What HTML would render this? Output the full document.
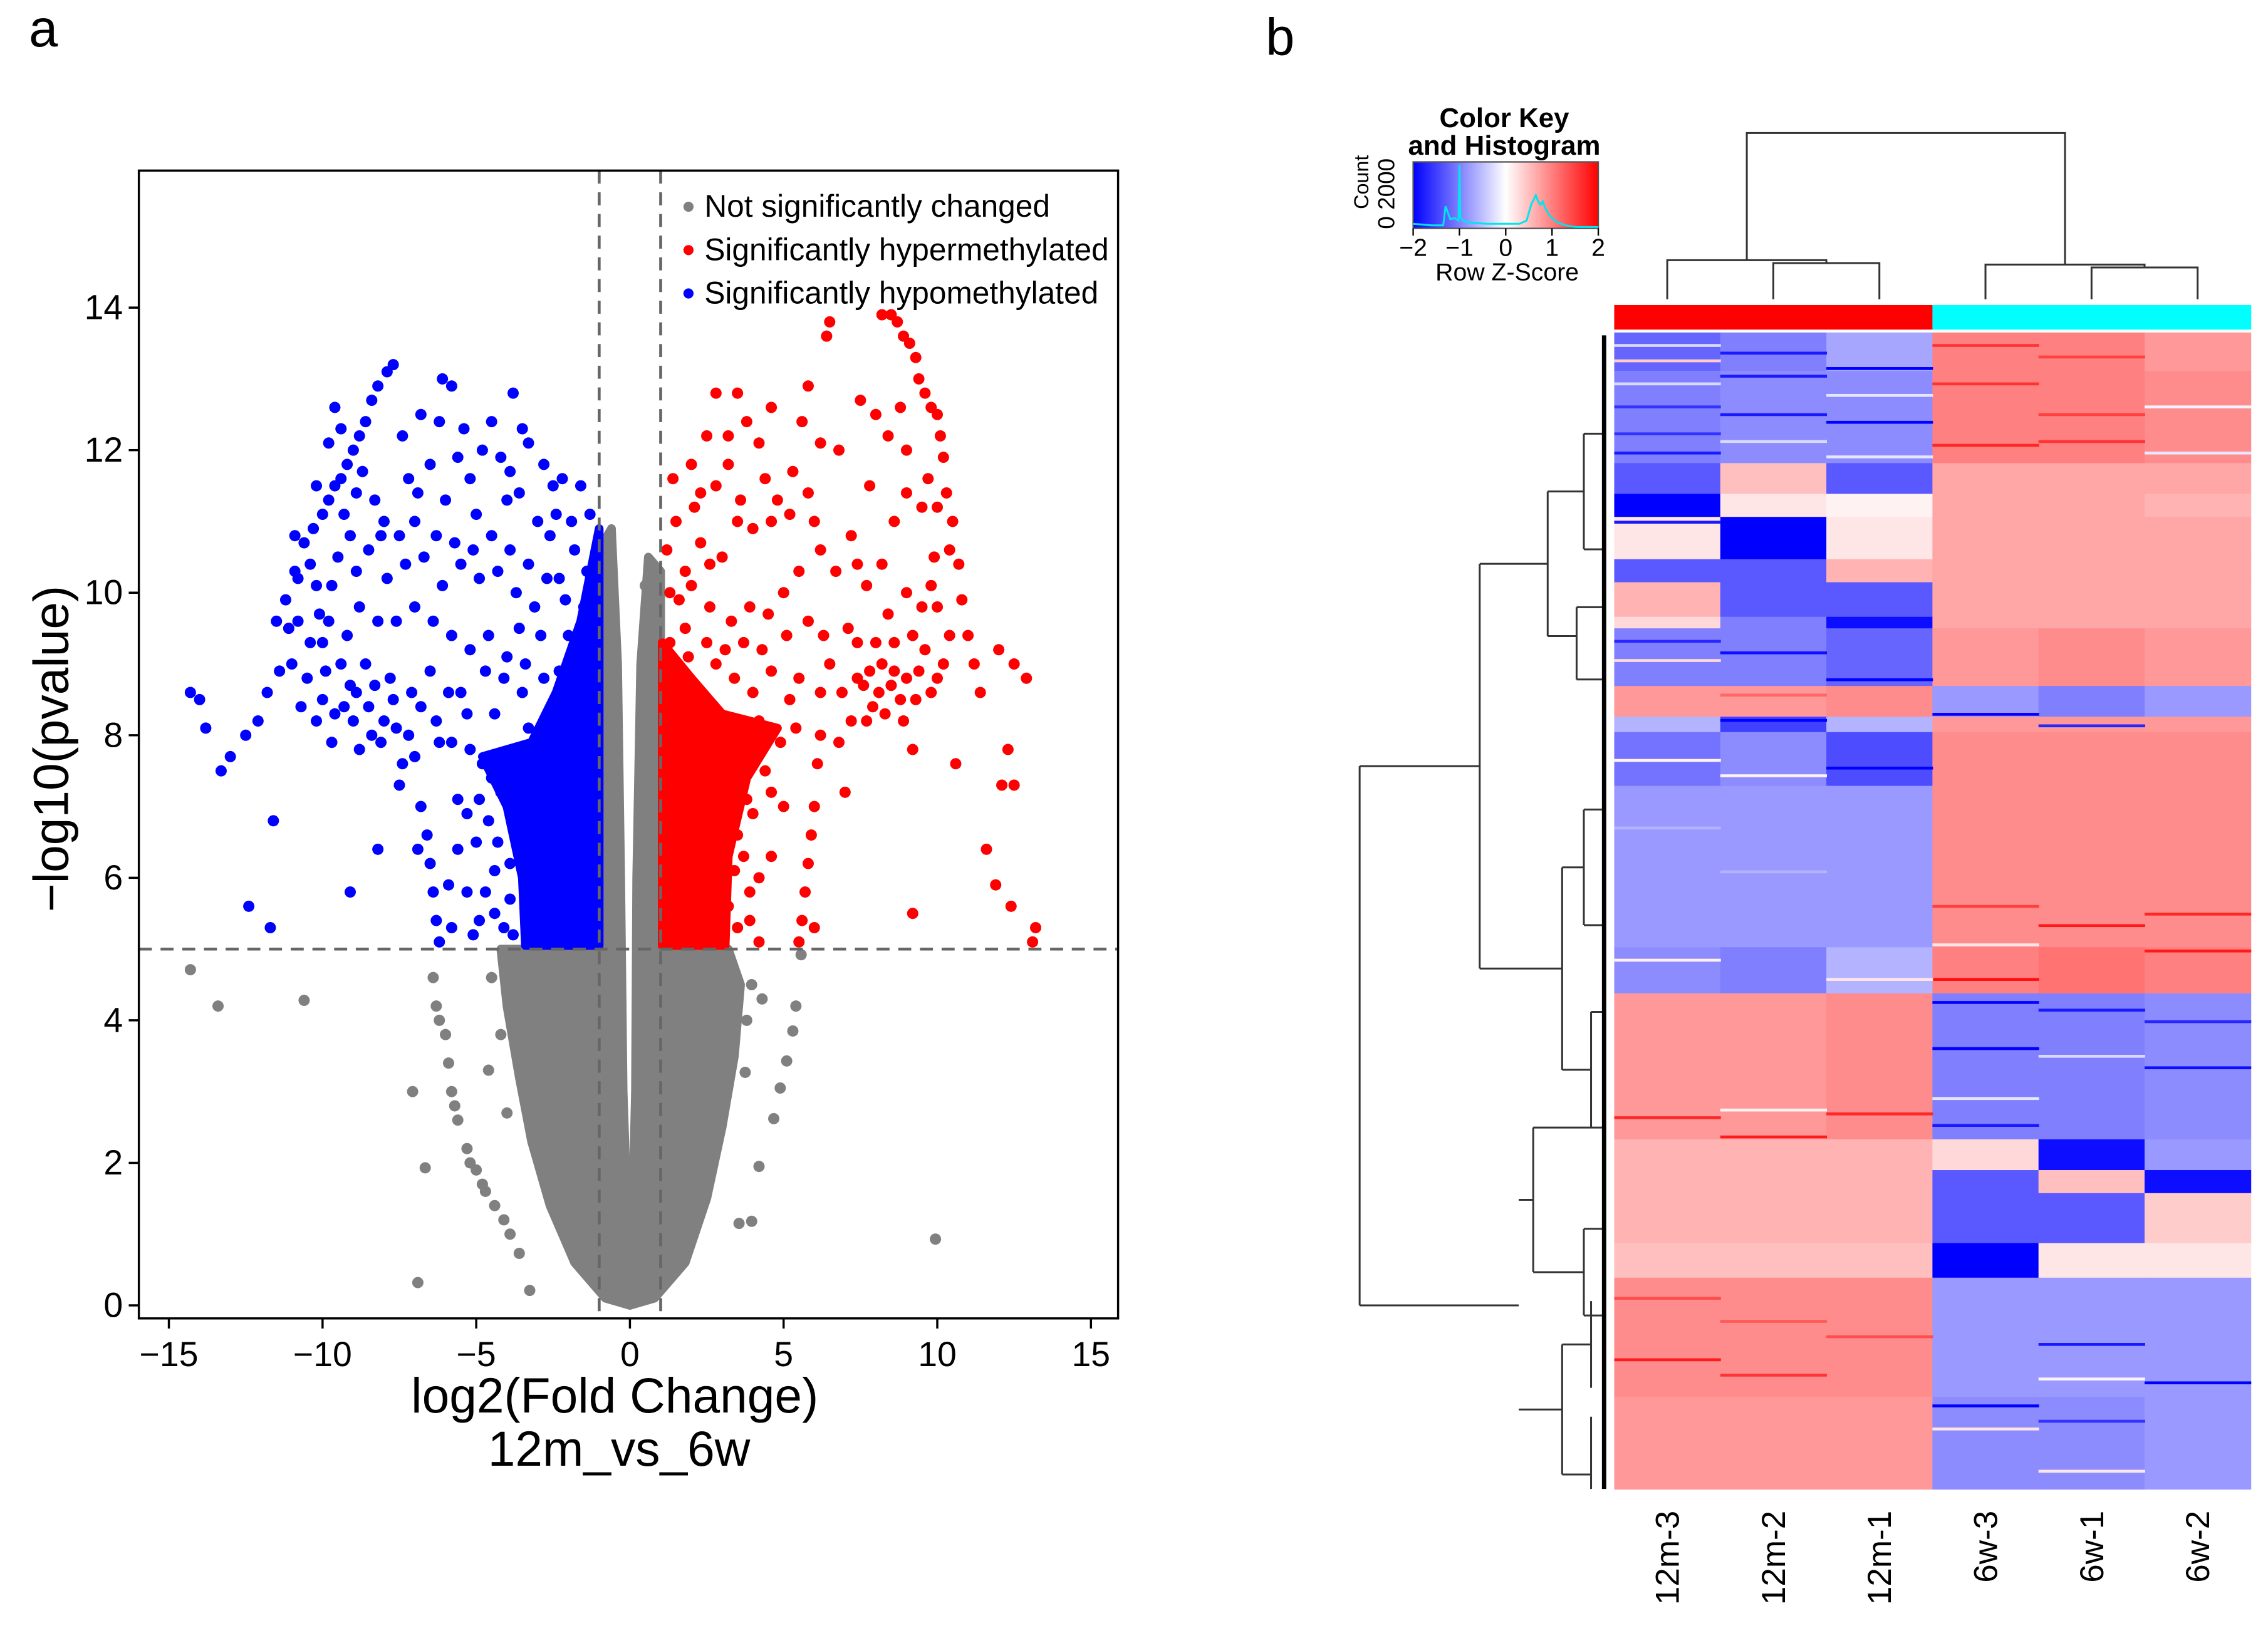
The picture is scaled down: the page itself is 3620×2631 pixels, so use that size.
<!DOCTYPE html>
<html><head><meta charset="utf-8"><style>
html,body{margin:0;padding:0;background:#fff;}
svg{display:block;font-family:"Liberation Sans",Arial,sans-serif;}
</style></head><body>
<svg id="fig" width="3620" height="2631" viewBox="0 0 1568 1140" preserveAspectRatio="none" xmlns="http://www.w3.org/2000/svg">
<text x="20" y="32" font-size="36">a</text>
<text x="875" y="38" font-size="36">b</text>
<g id="volcano"></g>
<g id="heat"></g>
</svg>
<script>
// ---------- Volcano data ----------
const xTicks=[-15,-10,-5,0,5,10,15];
const yTicks=[0,2,4,6,8,10,12,14];
const greyLeftLobe=[[0,0],[-0.8,0.1],[-1.8,0.6],[-2.6,1.4],[-3.2,2.3],[-3.6,3.2],[-4,4.2],[-4.2,5],[-1,5],[-1,10.6],[-0.6,10.9],[-0.4,9],[-0.3,6],[-0.22,3],[-0.08,1.2],[0,0.6]];
const greyRightLobe=[[0,0],[0.8,0.1],[1.8,0.6],[2.5,1.5],[3,2.5],[3.4,3.5],[3.6,4.5],[3.2,5],[1,5],[1,10.3],[0.6,10.5],[0.35,9],[0.22,6],[0.18,3],[0.08,1.2],[0,0.6]];
const greyPoints=[[-14.3,4.71],[-13.4,4.2],[-10.6,4.28],[-7.07,3.0],[-6.66,1.93],[-6.9,0.32],[-3.26,0.21],[-3.6,0.73],[9.94,0.93],[3.55,1.15],[3.96,1.18],[4.2,1.95],[4.68,2.62],[4.89,3.05],[5.1,3.43],[5.3,3.85],[5.4,4.2],[5.57,4.92],[3.96,4.5],[3.75,3.27],[3.13,3.75],[2.93,2.94],[-6.4,4.6],[-6.3,4.2],[-6.0,3.8],[-5.9,3.4],[-5.8,3.0],[-5.6,2.6],[-5.3,2.2],[-5.0,1.9],[-4.7,1.6],[-4.4,1.4],[-4.1,1.2],[-3.9,1.0],[-4.5,4.6],[-4.2,3.8],[-3.9,4.4],[-4.6,3.3],[-4.0,2.7],[-6.2,4.0],[-5.7,2.8],[-5.2,2.0],[-4.8,1.7],[-3.7,3.8],[-3.4,4.6],[4.3,4.3],[3.8,4.0],[2.8,4.6],[-1.2,6.5],[-1.1,8],[1.1,7.5],[0.9,9.2],[-0.7,10.3],[0.5,10.1]];
const blueCore=[[-1,5.05],[-3.4,5.05],[-3.5,6],[-4,7],[-4.8,7.7],[-3.2,7.9],[-2.4,8.6],[-1.6,9.6],[-1,10.9]];
const redCore=[[1.05,5.05],[3.1,5.05],[3.2,6.3],[3.8,7.4],[4.8,8.1],[3,8.3],[2,8.8],[1.05,9.3]];
const bluePoints=[[-7.7,13.2],[-7.9,13.1],[-8.2,12.9],[-8.4,12.7],[-8.6,12.4],[-8.8,12.2],[-9,12],[-9.2,11.8],[-9.4,11.6],[-9.6,11.5],[-9.8,11.3],[-10,11.1],[-10.3,10.9],[-10.6,10.7],[-10.9,10.3],[-11.2,9.9],[-11.5,9.6],[-11.8,8.6],[-12.1,8.2],[-12.5,8],[-13,7.7],[-13.3,7.5],[-13.8,8.1],[-14,8.5],[-14.3,8.6],[-11.6,6.8],[-12.4,5.6],[-11.7,5.3],[-9.1,5.8],[-8.2,6.4],[-6.1,13],[-5.8,12.9],[-3.8,12.8],[-4.5,12.4],[-6.8,12.5],[-7.4,12.2],[-5.4,12.3],[-3.5,12.3],[-3.3,12.1],[-2.8,11.8],[-2.5,11.5],[-2.2,11.6],[-1.6,11.5],[-1.3,11.1],[-1.8,10.6],[-2.6,10.8],[-3,11],[-4,11.3],[-5,11.1],[-6,11.3],[-7,11],[-8,11],[-9.5,10.5],[-10.2,10.1],[-10.8,9.6],[-11,9],[-10.5,8.8],[-10,8.5],[-9.6,8.3],[-9,8.2],[-8.5,8.4],[-8,8.2],[-7.6,8.1],[-7.2,8],[-6.8,8.4],[-6.2,7.9],[-5.8,7.9],[-5.2,7.8],[-4.8,7.6],[-4.5,7.4],[-4.2,7.2],[-3.8,7],[-9.8,9.6],[-9.2,9.4],[-8.8,9.8],[-8.2,9.6],[-7.6,9.6],[-7,9.8],[-6.4,9.6],[-5.8,9.4],[-5.2,9.2],[-4.6,9.4],[-4,9.1],[-3.4,9],[-2.8,8.8],[-3.1,9.8],[-3.7,10],[-4.3,10.3],[-4.9,10.2],[-5.5,10.4],[-6.1,10.1],[-6.7,10.5],[-7.3,10.4],[-7.9,10.2],[-8.5,10.6],[-9.1,10.8],[-9.4,9],[-10.4,9.3],[-11.4,8.9],[-6.5,8.9],[-5.5,8.6],[-4.4,8.3],[-3.3,8.1],[-7.5,7.3],[-6.8,7],[-6.6,6.6],[-6.5,6.2],[-6.4,5.8],[-6.3,5.4],[-6.2,5.1],[-6.9,6.4],[-7,7.7],[-5.9,5.9],[-5.6,7.1],[-5,6.5],[-4.6,6.8],[-4.1,5.3],[-3.9,5.7],[-4.4,6.1],[-3.6,6.4],[-3.3,5.1],[-3.8,5.2],[-5.8,5.3],[-5.3,5.8],[-2.3,10.2],[-1.5,9.8],[-2,9.4],[-3.6,9.5],[-1.9,11],[-4.8,12],[-5.2,11.6],[-3.9,11.7],[-6.5,11.8],[-8.9,11.4],[-7.2,11.6],[-10.2,11.5],[-9.8,12.1],[-9.4,12.3],[-8.6,9.0],[-7.8,8.8],[-9.9,8.9],[-10.8,10.2],[-2.6,7.8],[-4.9,5.4],[-5.6,6.4],[-9.3,11.1],[-8.7,11.7],[-8.3,11.3],[-9.7,10.1],[-10.1,9.7],[-8.9,10.3],[-8.1,10.8],[-7.5,10.8],[-6.9,11.4],[-6.3,10.8],[-5.7,10.7],[-5.1,10.6],[-4.5,10.8],[-3.9,10.6],[-3.3,10.4],[-2.7,10.2],[-2.1,9.9],[-2.9,9.4],[-3.5,8.6],[-4.1,8.8],[-4.7,8.9],[-5.3,8.3],[-5.9,8.6],[-6.3,8.2],[-7.1,8.6],[-7.7,8.5],[-8.3,8.7],[-8.9,8.6],[-9.3,8.4],[-10.2,8.2],[-10.7,8.4],[-9.7,7.9],[-8.8,7.8],[-8.1,7.9],[-7.4,7.6],[-2.3,8.9],[-1.8,8.8],[-1.4,10.3],[-1.2,9.7],[-4.9,7.1],[-5.3,6.9],[-4.3,6.5],[-3.9,6.2],[-4.7,5.8],[-5.1,5.2],[-4.4,5.5],[-9.6,12.6],[-10.4,10.4],[-11.1,9.5],[-10.9,10.8],[-3.6,11.4],[-4.2,11.9],[-2.4,11.1],[-5.6,11.9],[-6.2,12.4],[-8.4,8.0],[-9.1,8.7],[-10.0,9.3]];
const redPoints=[[6.5,13.8],[6.4,13.6],[8.2,13.9],[8.5,13.9],[8.7,13.8],[8.9,13.6],[9.1,13.5],[9.3,13.3],[9.4,13],[9.6,12.8],[9.8,12.6],[10,12.5],[10.1,12.2],[10.2,11.9],[10.3,11.4],[10.5,11],[10.7,10.4],[10.8,9.9],[11,9.4],[11.2,9],[11.4,8.6],[12,9.2],[12.5,9],[12.9,8.8],[12.3,7.8],[12.1,7.3],[12.5,7.3],[11.6,6.4],[11.9,5.9],[12.4,5.6],[13.2,5.3],[13.1,5.1],[10.6,7.6],[9.2,5.5],[7,7.2],[7.5,12.7],[8,12.5],[8.4,12.2],[9,12],[7.8,11.5],[8.6,11],[9.5,11.2],[9.9,10.5],[9.5,9.8],[9,10],[8.4,9.7],[7.7,10.1],[7.1,9.5],[6.5,9],[6.9,8.6],[7.4,8.8],[7.8,8.9],[8.2,9],[8.6,8.9],[9,8.8],[9.4,8.9],[9.8,8.6],[10.2,9],[8.1,8.6],[8.5,8.7],[7.6,8.7],[6.2,8.6],[6.2,8],[6.1,7.6],[6,7],[5.9,6.6],[5.8,6.2],[5.7,5.8],[5.6,5.4],[5.5,5.1],[6,5.3],[2,11.8],[2.5,12.2],[3.2,12.2],[3.8,12.4],[3.5,12.8],[4.2,12.1],[2.8,11.5],[1.5,11],[1.2,10.6],[1.8,10.3],[2.3,10.7],[3,10.5],[3.5,11],[4,10.9],[4.6,11],[5.2,11.1],[5.8,11.4],[6.2,10.6],[5.5,10.3],[5,10],[4.5,9.7],[3.9,9.8],[3.3,9.6],[2.6,9.8],[1.8,9.5],[1.3,9.3],[1.5,8.8],[2.2,8.6],[2.8,9],[3.4,8.8],[4,8.6],[4.6,8.9],[5.2,8.5],[5.8,9.6],[4.9,7.9],[4.4,7.5],[3.8,7.1],[3.5,6.6],[3.4,6.1],[3.2,5.6],[3.5,5.3],[4.6,6.3],[3.9,5.8],[2.8,12.8],[4.6,12.6],[5.6,12.4],[6.2,12.1],[5.3,11.7],[4.4,11.6],[3.2,11.8],[2.1,11.2],[5.8,12.9],[7.2,10.8],[6.8,12],[8.2,10.4],[9.2,9.4],[10,9.8],[10.4,10.6],[9.2,7.8],[8.3,8.3],[7.2,8.2],[6.8,7.9],[5,7],[4.2,5.1],[7.9,8.4],[8.8,8.5],[9.6,9.2],[7.4,9.3],[8.0,9.3],[8.6,9.3],[9.3,8.5],[7.7,8.2],[8.9,8.2],[10.0,8.8],[10.4,9.4],[9.8,10.1],[9.7,11.6],[10.0,11.2],[1.3,10],[1.6,9.9],[2.0,10.1],[2.6,10.4],[1.9,9.1],[2.5,9.3],[3.1,9.2],[3.7,9.3],[4.3,9.2],[5.5,8.8],[5.1,9.4],[4.2,8.2],[5.4,8.1],[4.6,7.2],[4.0,6.9],[3.7,6.3],[4.2,6.0],[3.9,5.4],[1.4,11.6],[2.3,11.4],[3.6,11.3],[4.8,11.3],[6.0,11.0],[6.7,10.3],[6.3,9.4],[7.4,10.4],[9.0,11.4],[8.8,12.6]];
const thresholds={fc:1,p:5};
const legendLabels=["Not significantly changed","Significantly hypermethylated","Significantly hypomethylated"];
const legendColors=["#808080","#ff0000","#0000ff"];

// ---------- Heatmap data ----------
const sampleNames=["12m-3","12m-2","12m-1","6w-3","6w-1","6w-2"];
const groupColors=["#ff0000","#ff0000","#ff0000","#00ffff","#00ffff","#00ffff"];
const rowBlockBounds=[45,95,215,255,285,340,370,415,430,505,545,565,635,845,905,1095,1135,1165,1230,1275,1430,1550];
const rowBlockValues=[
[-1.2,-1,-0.7,1,1,0.8],
[-1,-0.9,-0.9,1,1,0.9],
[-1.3,0.5,-1.3,0.7,0.7,0.7],
[-2,0.2,0.1,0.7,0.7,0.6],
[0.2,-2,0.2,0.7,0.7,0.7],
[-1.3,-1.3,0.6,0.7,0.7,0.7],
[0.6,-1.3,-1.3,0.7,0.7,0.7],
[0.3,-1,-1.9,0.7,0.7,0.7],
[-1,-1,-1.2,0.8,0.9,0.8],
[0.8,0.8,0.9,-0.8,-1,-0.8],
[-0.6,-1.5,-0.6,0.8,0.8,0.8],
[-1.1,-0.9,-1.4,0.9,0.9,0.9],
[-0.8,-0.8,-0.8,0.9,0.9,0.9],
[-0.9,-1,-0.6,1,1.1,1],
[0.8,0.8,0.9,-1,-1,-0.9],
[0.6,0.6,0.6,0.3,-1.9,-0.8],
[0.6,0.6,0.6,-1.3,0.5,-1.9],
[0.6,0.6,0.6,-1.3,-1.3,0.4],
[0.5,0.5,0.5,-2,0.2,0.2],
[0.9,0.9,0.9,-0.8,-0.8,-0.8],
[0.8,0.8,0.8,-0.9,-0.9,-0.8]];
// thin stripes: [rowPos, column, value]
const stripeRows=[[60,0,-0.3],[70,1,-1.8],[80,0,0.4],[90,2,-2],[100,1,-1.8],[110,0,-0.3],[125,2,-0.2],[140,0,-1.6],[150,1,-1.8],[160,2,-2],[175,0,-1.6],[185,1,-0.3],[200,0,-1.8],[205,2,-0.2],[60,3,1.6],[75,4,1.5],[110,3,1.6],[140,5,-0.1],[150,4,1.5],[190,3,1.7],[200,5,-0.2],[185,4,1.6],[290,0,-1.8],[445,0,-1.7],[460,1,-1.9],[470,0,0.3],[495,2,-2],[515,1,1.2],[540,3,-2],[548,1,-2],[555,4,-1.7],[600,0,0.1],[620,1,0.1],[610,2,-2],[688,0,-0.6],[745,1,-0.6],[790,3,1.5],[800,5,1.7],[815,4,1.8],[840,3,0.2],[848,5,1.8],[860,0,0.1],[885,3,1.9],[885,2,0.2],[915,3,-2],[925,4,-1.8],[940,5,-1.7],[975,3,-2],[985,4,-0.3],[1000,5,-1.9],[1040,3,-0.2],[1055,1,0.1],[1060,2,1.7],[1065,0,1.7],[1075,3,-1.8],[1090,1,1.8],[1300,0,1.4],[1330,1,1.3],[1350,2,1.4],[1360,4,-1.8],[1380,0,1.8],[1400,1,1.6],[1405,4,0.1],[1410,5,-2],[1440,3,-2],[1460,4,-1.6],[1470,3,0.2],[1525,4,0.2]];
const keyTicks=[-2,-1,0,1,2];
const histZ=[-2,-1.8,-1.6,-1.35,-1.3,-1.2,-1.1,-1.02,-1,-0.98,-0.9,-0.7,-0.4,0,0.3,0.45,0.55,0.65,0.7,0.75,0.8,0.85,0.95,1.1,1.3,1.5,2];
const histCount=[200,150,100,100,1300,500,550,400,3900,600,350,250,200,200,200,400,1400,2000,1600,1400,1600,1200,700,300,100,0,0];

const NS="http://www.w3.org/2000/svg";
function mk(tag,attrs,parent){const e=document.createElementNS(NS,tag);for(const k in attrs)e.setAttribute(k,attrs[k]);parent.appendChild(e);return e;}

// ---- volcano ----
const V=document.getElementById('volcano');
const L=96,R=773,T=118,B=912;
const X=v=>435.5+v*21.25, Y=v=>903-v*49.3;
const clip=mk('clipPath',{id:'vclip'},V); mk('rect',{x:L,y:T,width:R-L,height:B-T},clip);
const pg=mk('g',{'clip-path':'url(#vclip)'},V);
function poly(pts,fill,name){const p=mk('polygon',{points:pts.map(q=>X(q[0])+','+Y(q[1])).join(' '),fill:fill,stroke:fill,'stroke-width':6,'stroke-linejoin':'round'},pg);

}
function dots(pts,fill,name){pts.forEach(q=>{const c=mk('circle',{cx:X(q[0]),cy:Y(q[1]),r:3.9,fill:fill},pg);

});}
poly(greyLeftLobe,'#808080','grey-density-left');
poly(greyRightLobe,'#808080','grey-density-right');
dots(greyPoints,'#808080','grey-point');
poly(blueCore,'#0000ff','blue-density');
poly(redCore,'#ff0000','red-density');
dots(bluePoints,'#0000ff','blue-point');
dots(redPoints,'#ff0000','red-point');
[ -thresholds.fc, thresholds.fc].forEach(v=>{const l=mk('line',{x1:X(v),x2:X(v),y1:T,y2:B,stroke:'#666','stroke-width':2,'stroke-dasharray':'9,6'},V);

});
const hl=mk('line',{x1:L,x2:R,y1:Y(thresholds.p),y2:Y(thresholds.p),stroke:'#666','stroke-width':2,'stroke-dasharray':'9,6'},V);


const box=mk('rect',{x:L,y:T,width:R-L,height:B-T,fill:'none',stroke:'#000','stroke-width':1.5},V);


xTicks.forEach(t=>{mk('line',{x1:X(t),x2:X(t),y1:B,y2:B+7,stroke:'#000','stroke-width':1.5},V);
const tx=mk('text',{x:X(t),y:B+33,'font-size':24,'text-anchor':'middle'},V);tx.textContent=(t<0?'\u2212':'')+Math.abs(t);

});
yTicks.forEach(t=>{mk('line',{x1:L-7,x2:L,y1:Y(t),y2:Y(t),stroke:'#000','stroke-width':1.5},V);
const tx=mk('text',{x:L-11,y:Y(t)+8,'font-size':24,'text-anchor':'end'},V);tx.textContent=t;

});
let t1=mk('text',{x:425,y:977,'font-size':34,'text-anchor':'middle'},V);t1.textContent='log2(Fold Change)';


let t2=mk('text',{x:428,y:1014,'font-size':34,'text-anchor':'middle'},V);t2.textContent='12m_vs_6w';


let t3=mk('text',{x:0,y:0,'font-size':34,'text-anchor':'middle',transform:'translate(47,518) rotate(-90)'},V);t3.textContent='\u2212log10(pvalue)';


legendLabels.forEach((s,i)=>{const g=mk('g',{},V);


mk('circle',{cx:476,cy:143+i*30,r:3.5,fill:legendColors[i]},g);
const tx=mk('text',{x:487,y:150+i*30,'font-size':21.5},g);tx.textContent=s;});

// ---- heatmap ----
const H=document.getElementById('heat');
const HL=1116,HR=1556,HT=230,HB=1030,cw=(HR-HL)/6;
function zcol(z){z=Math.max(-2,Math.min(2,z));const f=Math.round(255*(1-Math.abs(z)/2));return z<0?`rgb(${f},${f},255)`:`rgb(255,${f},${f})`;}
const z0=rowBlockBounds[0],z1=rowBlockBounds[rowBlockBounds.length-1];
const RY=v=>HT+(v-z0)/(z1-z0)*(HB-HT);
rowBlockValues.forEach((row,ri)=>{row.forEach((v,ci)=>{const r=mk('rect',{x:HL+ci*cw,y:RY(rowBlockBounds[ri]),width:cw+0.4,height:RY(rowBlockBounds[ri+1])-RY(rowBlockBounds[ri])+0.4,fill:zcol(v)},H);

});});
stripeRows.forEach(s=>{const r=mk('rect',{x:HL+s[1]*cw,y:RY(s[0]),width:cw+0.4,height:2,fill:zcol(s[2])},H);

});
groupColors.forEach((c,i)=>{const r=mk('rect',{x:HL+i*cw,y:211,width:cw+0.4,height:17,fill:c},H);

});
sampleNames.forEach((s,i)=>{const tx=mk('text',{x:0,y:0,'font-size':23,'text-anchor':'end',transform:`translate(${HL+(i+0.5)*cw+8},1045) rotate(-90)`},H);tx.textContent=s;

});
const cx=i=>HL+(i+0.5)*cw;
const dend=[[cx(1),cx(2),182,207,207],[cx(0),(cx(1)+cx(2))/2,180,207,182],[cx(4),cx(5),185,207,207],[cx(3),(cx(4)+cx(5))/2,183,207,185],[(cx(0)+(cx(1)+cx(2))/2)/2,(cx(3)+(cx(4)+cx(5))/2)/2,92,180,183]];
dend.forEach(d=>{const p=mk('path',{d:`M${d[0]},${d[3]}V${d[2]}H${d[1]}V${d[4]}`,fill:'none',stroke:'#333','stroke-width':1.3},H);

});
const rd='M1023,390V670M940,530V903M940,530H1023M940,903H1050M1023,390H1070M1023,670H1080M1050,830H1060M1050,975H1080'+
'M1070,340V440M1070,340H1095M1070,440H1090M1080,600V740M1080,600H1095M1080,740H1100M1060,780V880M1060,780H1100M1060,880H1095'+
'M1080,930V1020M1080,930H1100M1080,1020H1100M1095,300V380M1090,420V470M1095,560V640M1100,700V780M1095,850V910M1100,900V960M1100,980V1030'+
'M1095,300H1108M1095,380H1108M1090,420H1108M1090,470H1108M1095,560H1108M1095,640H1108M1100,700H1108M1100,780H1108M1095,850H1108M1095,910H1108';
const rp=mk('path',{d:rd,fill:'none',stroke:'#333','stroke-width':1.3},H);


const rl=mk('line',{x1:1109,x2:1109,y1:232,y2:1030,stroke:'#000','stroke-width':3},H);


const K=mk('g',{},H);


const KL=977,KR=1105,KT=112,KB=158;
const KX=z=>KL+(z+2)/4*(KR-KL);
const defs=mk('defs',{},K);const lg=mk('linearGradient',{id:'bwr'},defs);
mk('stop',{offset:'0','stop-color':'#0000ff'},lg);mk('stop',{offset:'0.5','stop-color':'#ffffff'},lg);mk('stop',{offset:'1','stop-color':'#ff0000'},lg);
mk('rect',{x:KL,y:KT,width:KR-KL,height:KB-KT,fill:'url(#bwr)',stroke:'#555','stroke-width':1},K);
const HY=c=>KB-1-c/4000*(KB-KT-2);
const hp=mk('polyline',{points:histZ.map((z,i)=>KX(z)+','+HY(histCount[i])).join(' '),fill:'none',stroke:'#00e5ee','stroke-width':1.3},K);


keyTicks.forEach(t=>{mk('line',{x1:KX(t),x2:KX(t),y1:KB,y2:KB+5,stroke:'#000'},K);
const tx=mk('text',{x:KX(t),y:KB+19,'font-size':17,'text-anchor':'middle'},K);tx.textContent=(t<0?'\u2212':'')+Math.abs(t);

});
[['Color Key',88],['and Histogram',107]].forEach(a=>{const tx=mk('text',{x:1040,y:a[1],'font-size':19,'font-weight':'bold','text-anchor':'middle'},K);tx.textContent=a[0];

});
let rz=mk('text',{x:1042,y:194,'font-size':17,'text-anchor':'middle'},K);rz.textContent='Row Z-Score';


let cc=mk('text',{x:0,y:0,'font-size':14,'text-anchor':'middle',transform:'translate(946,126) rotate(-90)'},K);cc.textContent='Count';


let c2=mk('text',{x:0,y:0,'font-size':16,'text-anchor':'middle',transform:'translate(964,134) rotate(-90)'},K);c2.textContent='0 2000';


</script>
</body></html>
